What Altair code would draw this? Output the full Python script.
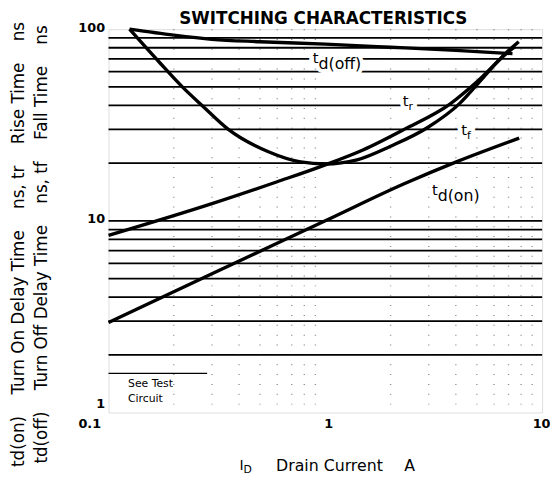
import altair as alt
import pandas as pd

FONT = "DejaVu Sans"

# ---------------- values ----------------
tdoff_x = [0.125, 0.2, 0.3, 0.5, 1.0, 2.0, 4.0, 7.3]
tdoff_y = [100, 93, 88.5, 86, 83.5, 80.5, 77.5, 74.5]

tr_x = [0.1, 0.3, 0.6, 1.0, 1.5, 2.31, 3.77, 4.96, 7.05, 7.5]
tr_y = [8.4, 12.3, 16.0, 19.6, 23.5, 30.0, 40.8, 52.7, 76.8, 81]

tf_x = [0.125, 0.172, 0.219, 0.27, 0.357, 0.543, 0.77, 1.0, 1.4, 2.0, 2.94, 4.17, 5.06, 6.8, 7.8]
tf_y = [100, 67, 50, 40, 30, 23, 20.3, 19.8, 20.8, 24.5, 30.5, 41, 52, 75, 86]

tdon_x = [0.1, 0.3, 1.0, 2.31, 4.02, 7.84]
tdon_y = [2.95, 5.3, 10.0, 15.6, 20.3, 27.0]

h_grid = [2, 3, 4, 5, 6, 7, 8, 9, 10, 20, 30, 40, 50, 60, 70, 80, 90]
v_grid = [0.2, 0.3, 0.4, 0.5, 0.6, 0.7, 0.8, 0.9, 2, 3, 4, 5, 6, 7, 8, 9]

x_ticks = [0.1, 1, 10]
y_ticks = [1, 10, 100]

lab_main = ["t", "t", "t", "t"]
lab_sub = ["d(off)", "r", "f", "d(on)"]
lab_x = [0.93, 2.42, 4.5, 3.3]
lab_y = [69.3, 41.1, 29.2, 14.2]

note_lines = ["See Test", "Circuit"]
note_x = [0.123, 0.123]
note_y = [1.41, 1.17]
note_rule_x = [0.1]
note_rule_x2 = [0.285]
note_rule_y = [1.6]

title_text = "SWITCHING CHARACTERISTICS"
G = "\u00a0\u00a0\u00a0\u00a0"
y_title = [
    f"td(on){G}Turn On Delay Time{G}ns, tr{G}Rise Time{G}ns",
    f"td(off){G}Turn Off Delay Time{G}ns, tf{G}Fall Time{G}ns",
]

# ---------------- tables ----------------
rows = []
for name, xs_, ys_ in [("tdoff", tdoff_x, tdoff_y), ("tr", tr_x, tr_y),
                       ("tf", tf_x, tf_y), ("tdon", tdon_x, tdon_y)]:
    for i, (a, b) in enumerate(zip(xs_, ys_)):
        rows.append({"series": name, "i": i, "x": a, "y": b})
curves = pd.DataFrame(rows)
hg = pd.DataFrame({"y": h_grid})
vg = pd.DataFrame({"x": v_grid})
labels = pd.DataFrame({"main": lab_main, "sub": lab_sub, "x": lab_x, "y": lab_y})
notes = pd.DataFrame({"text": note_lines, "x": note_x, "y": note_y})
note_rule = pd.DataFrame({"x": note_rule_x, "x2": note_rule_x2, "y": note_rule_y})

xscale = alt.Scale(type="log", domain=[0.1, 10], nice=False)
yscale = alt.Scale(type="log", domain=[1, 100], nice=False)

xaxis = alt.Axis(values=x_ticks, format="~g", title=None, grid=False, ticks=False,
                 domain=False, labelFont=FONT, labelFontSize=13, labelFontWeight="bold",
                 labelColor="black", labelPadding=5,
                 labelAlign={"condition": {"test": "datum.value < 0.5", "value": "right"},
                             "value": "center"},
                 labelOffset={"condition": [{"test": "datum.value < 0.5", "value": -8},
                                            {"test": "datum.value > 5", "value": -1}],
                              "value": 3})
yaxis = alt.Axis(values=y_ticks, format="~g", title=y_title, titleAngle=270,
                 titleX=-91, titleY=218, titleAlign="center", titleBaseline="middle",
                 titleLineHeight=23, titleFont=FONT, titleFontSize=17,
                 titleFontWeight="normal", titleColor="black",
                 grid=False, ticks=False, domain=False, labelFont=FONT,
                 labelFontSize=13, labelFontWeight="bold", labelColor="black",
                 labelPadding=4,
                 labelOffset={"condition": {"test": "datum.value < 2", "value": -9},
                              "value": -2})

X = lambda f="x": alt.X(f"{f}:Q", scale=xscale, axis=xaxis)
Y = lambda f="y": alt.Y(f"{f}:Q", scale=yscale, axis=yaxis)

hrules = alt.Chart(hg).mark_rule(color="black", strokeWidth=1.8).encode(y=Y())
vrules = alt.Chart(vg).mark_rule(color="#222", strokeWidth=1.4, strokeDash=[1, 9],
                                 opacity=0.5).encode(x=X())
nrule = alt.Chart(note_rule).mark_rule(color="black", strokeWidth=1.5).encode(
    x=X(), x2="x2:Q", y=Y())

sub_size = alt.condition("length(datum.sub) > 1", alt.value(16), alt.value(11))

halo_main = alt.Chart(labels).mark_text(font=FONT, fontSize=15, align="right",
                                        baseline="middle", dy=-2, color="white",
                                        stroke="white", strokeWidth=8).encode(
    x=X(), y=Y(), text="main:N")
halo_sub = alt.Chart(labels).mark_text(font=FONT, align="left", baseline="middle",
                                       dy=4, color="white", stroke="white",
                                       strokeWidth=8).encode(
    x=X(), y=Y(), text="sub:N", size=sub_size)

lines = alt.Chart(curves).mark_line(color="black", strokeWidth=3.4,
                                    interpolate="monotone").encode(
    x=X(), y=Y(), detail="series:N", order="i:Q")

txt_main = alt.Chart(labels).mark_text(font=FONT, fontSize=15, align="right",
                                       baseline="middle", dy=-2, color="black").encode(
    x=X(), y=Y(), text="main:N")
txt_sub = alt.Chart(labels).mark_text(font=FONT, align="left", baseline="middle",
                                      dy=4, color="black").encode(
    x=X(), y=Y(), text="sub:N", size=sub_size)

note_txt = alt.Chart(notes).mark_text(font=FONT, fontSize=11, align="left",
                                      baseline="middle", color="black").encode(
    x=X(), y=Y(), text="text:N")

one = pd.DataFrame({"k": [0]})
t_title = alt.Chart(one).mark_text(text=title_text, font=FONT, fontSize=17,
                                   fontWeight="bold", align="center", baseline="top",
                                   color="black").encode(
    x=alt.value(218), y=alt.value(-18))
t_I = alt.Chart(one).mark_text(text="I", font=FONT, fontSize=14, align="left",
                               baseline="middle", color="black").encode(
    x=alt.value(133), y=alt.value(443))
t_D = alt.Chart(one).mark_text(text="D", font=FONT, fontSize=11, align="left",
                               baseline="middle", color="black").encode(
    x=alt.value(137), y=alt.value(447))
t_dc = alt.Chart(one).mark_text(text="Drain Current", font=FONT, fontSize=16,
                                align="left", baseline="middle", color="black").encode(
    x=alt.value(170), y=alt.value(443))
t_A = alt.Chart(one).mark_text(text="A", font=FONT, fontSize=16, align="left",
                               baseline="middle", color="black").encode(
    x=alt.value(300), y=alt.value(443))

chart = alt.layer(
    hrules, vrules, nrule, halo_main, halo_sub, lines, txt_main, txt_sub,
    note_txt, t_title, t_I, t_D, t_dc, t_A
).properties(
    width=440, height=389,
    padding={"left": 102, "top": 18, "right": 8, "bottom": 64},
    autosize=alt.AutoSizeParams(type="none"),
).configure_view(
    stroke="black", strokeWidth=2.6
).configure(background="white")

chart.save("out.html", embed_options={"renderer": "svg", "actions": False})
